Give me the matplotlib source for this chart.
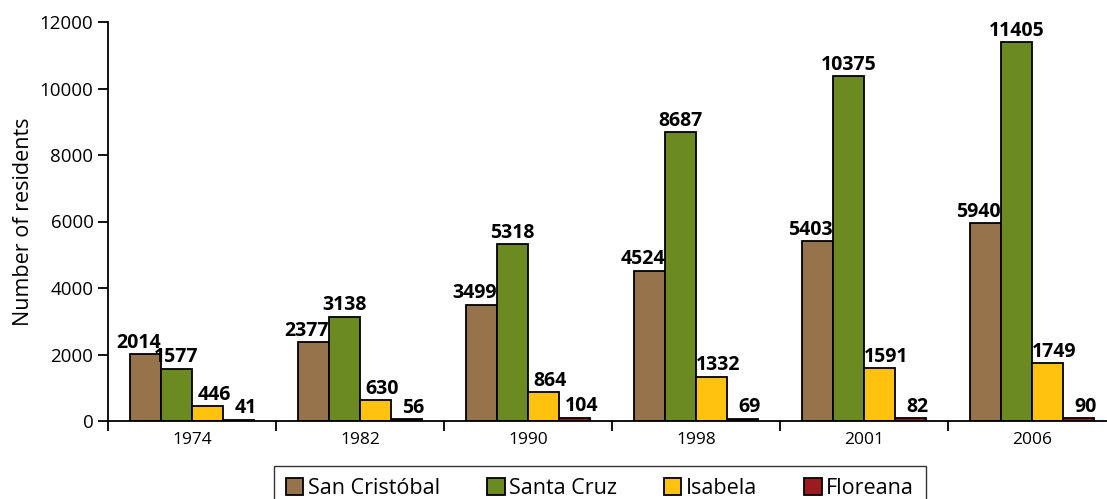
import numpy as np
import matplotlib
matplotlib.use('Agg')
import matplotlib.pyplot as plt

##### dados
anos = ['1974', '1982', '1990', '1998', '2001', '2006']
ilhas = ['San Cristóbal', 'Santa Cruz', 'Isabela', 'Floreana']
san_cristobal = [2014, 2377, 3499, 4524, 5403, 5940]
santa_cruz = [1577, 3138, 5318, 8687, 10375, 11405]
isabela = [446, 630, 864, 1332, 1591, 1749]
floreana = [41, 56, 104, 69, 82, 90]
cores = ['#96734A', '#6B8A22', '#FFC30F', '#9B1B1F']

plt.rcParams['font.family'] = ['Open Sans', 'DejaVu Sans']

fig = plt.figure(figsize=(11.07, 4.99), dpi=100)
ax = fig.add_axes([108/1107, 78/499, 1008/1107, 399/499])

x = np.arange(len(anos))
w = 0.185
# deslocamento horizontal dos rotulos (como no original)
desloc = [-0.04, 0.0, 0.04, 0.04]
series = [san_cristobal, santa_cruz, isabela, floreana]
for k, (vals, cor, nome) in enumerate(zip(series, cores, ilhas)):
    pos = x + (k - 1.5) * w
    ax.bar(pos, vals, width=w, color=cor, edgecolor='black', linewidth=1.3, label=nome)
    for p, v in zip(pos, vals):
        ax.annotate(str(v), (p + desloc[k], v), xytext=(0, 4.5), textcoords='offset points',
                    ha='center', va='baseline', fontsize=14, fontweight='bold')

ax.set_xlim(-0.5, len(anos) - 0.5)
ax.set_ylim(0, 12000)
ax.set_yticks(range(0, 12001, 2000))
ax.set_xticks(x)
ax.set_xticklabels(anos, fontsize=12.5)
ax.set_xticks(np.arange(-0.5, len(anos), 1), minor=True)
ax.tick_params(axis='x', which='major', length=0, pad=8)
ax.tick_params(axis='x', which='minor', length=7, width=1.3, direction='out')
ax.tick_params(axis='y', labelsize=13.5, length=7, width=1.3, direction='out')
for s in ['top', 'right']:
    ax.spines[s].set_visible(False)
for s in ['left', 'bottom']:
    ax.spines[s].set_linewidth(1.3)
ax.set_ylabel('Number of residents', fontsize=15.5, labelpad=4)

leg = fig.legend(loc='upper center', bbox_to_anchor=(600/1107, 1 - 466/499), ncol=4,
                 fontsize=15.5, frameon=True, fancybox=False, edgecolor='black',
                 handlelength=0.8, handleheight=0.8, handletextpad=0.2,
                 columnspacing=2.2, borderpad=0.55, borderaxespad=0)
leg.get_frame().set_linewidth(1.0)

fig.savefig('out.png', dpi=100)
